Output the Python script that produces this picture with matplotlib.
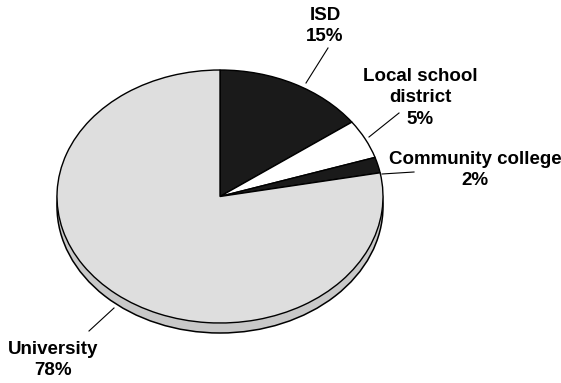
import matplotlib.pyplot as plt
from matplotlib.patches import Ellipse

# data
categories = ["ISD", "Local school\ndistrict", "Community college", "University"]
shares = [15, 5, 2, 78]
slice_colors = ["#1a1a1a", "#ffffff", "#1a1a1a", "#dedede"]

# label placement in pixels (x, y from top) and leader lines
label_pos = [(325, 26), (420, 98), (475, 170), (53, 360)]
leaders = [((306, 83), (328, 48)), ((369, 137), (399, 113)),
           ((382, 174), (414, 172)), ((114, 308), (89, 331))]

W, H = 561, 383
cx, cy = 220, 196.5
rx, ry = 163, 126.5
depth = 10

plt.rcParams['font.family'] = ['Liberation Sans', 'DejaVu Sans']

fig = plt.figure(figsize=(W / 100, H / 100), dpi=100)
ax = fig.add_axes([(cx - rx) / W, (H - cy - ry) / H, 2 * rx / W, 2 * ry / H])

# side wall of the 3d pie
side = Ellipse((0, -depth / ry), 2, 2, facecolor="#c8c8c8", edgecolor="black",
               linewidth=1.1, clip_on=False, zorder=1)
ax.add_patch(side)
base = Ellipse((0, 0), 2, 2, facecolor="#dedede", edgecolor="none", clip_on=False, zorder=1.5)
ax.add_patch(base)

wedges, _ = ax.pie(shares, colors=slice_colors, startangle=90, counterclock=False,
                   radius=1, center=(0, 0), frame=True,
                   wedgeprops=dict(edgecolor="black", linewidth=1.0))
for w in wedges:
    w.set_zorder(2)
    w.set_clip_on(False)
ax.set_xlim(-1, 1)
ax.set_ylim(-1, 1)
ax.set_aspect('auto')
ax.axis('off')

# labels
for cat, val, (lx, ly) in zip(categories, shares, label_pos):
    fig.text(lx / W, 1 - ly / H, f"{cat}\n{val}%", ha="center", va="center",
             fontsize=13.5, fontweight="bold", linespacing=1.32)

for (x0, y0), (x1, y1) in leaders:
    fig.add_artist(plt.Line2D([x0 / W, x1 / W], [1 - y0 / H, 1 - y1 / H],
                              color="black", linewidth=0.8))

fig.savefig("out.png", dpi=100)
